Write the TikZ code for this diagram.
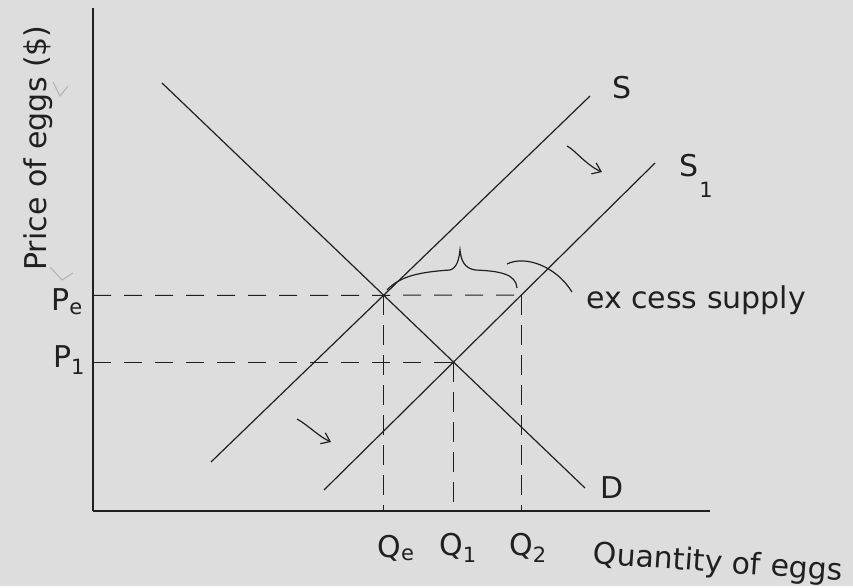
\documentclass[tikz,border=0pt]{standalone}
\usepackage{fontspec}
\setmainfont{DejaVu Sans}
\usetikzlibrary{arrows.meta,calc,positioning}
\definecolor{paper}{RGB}{221,221,221}
\definecolor{ink}{RGB}{32,32,32}
\definecolor{pencil}{RGB}{178,178,178}
\tikzset{
  curve/.style={ink,line width=1.2pt},
  guide/.style={ink,line width=1pt,dash pattern=on 18pt off 13pt},
  hand/.style={ink,inner sep=0pt,font=\fontsize{30}{34}\selectfont},
  small/.style={hand,font=\fontsize{21}{24}\selectfont},
}
\begin{document}
\begin{tikzpicture}[x=1pt,y=-1pt,>=Stealth]
\fill[paper] (0,0) rectangle (853,586);
% axes
\coordinate (O) at (93,511);
\coordinate (ytop) at (93,8);
\coordinate (xend) at (710,511);
\draw[ink,line width=1.6pt] (O)--(ytop);
\draw[ink,line width=2.2pt] (O)--(xend);
\node[hand,rotate=90] (ylab) at (38,148) {Price of eggs (\$)};
\node[hand,rotate=-4] (xlab) at (718,564) {Quantity of eggs};
% demand, supply and shifted supply
\coordinate (D0) at (162,83); \coordinate (D1) at (585,488);
\coordinate (S0) at (211,462); \coordinate (S1) at (590,96);
\coordinate (T0) at (324,490); \coordinate (T1) at (655,163);
\draw[curve] (D0)--(D1);
\draw[curve] (S0)--(S1);
\draw[curve] (T0)--(T1);
\node[hand] (slab) at (622,88) {S};
\node[hand] (s1lab) at (689,166) {S};
\node[small] (s1sub) at (706,190) {1};
\node[hand] (dlab) at (612,488) {D};
% equilibria and the price / quantity guides
\coordinate (E) at (intersection of D0--D1 and S0--S1);
\coordinate (F) at (intersection of D0--D1 and T0--T1);
\coordinate (Pe) at (O |- E);
\coordinate (P1) at (O |- F);
\coordinate (G) at (intersection of T0--T1 and Pe--E);
\coordinate (Qe) at (E |- O);
\coordinate (Q1) at (F |- O);
\coordinate (Q2) at (G |- O);
\draw[guide] (Pe)--(G);
\draw[guide] (P1)--(F);
\draw[guide,dash pattern=on 20pt off 10pt] (E)--(Qe);
\draw[guide,dash pattern=on 20pt off 10pt] (F)--(Q1);
\draw[guide,dash pattern=on 20pt off 10pt] (G)--(Q2);
\node[hand] (pelab) at (67,302) {P\textsubscript{e}};
\node[hand] (p1lab) at (69,360) {P\textsubscript{1}};
\node[hand] (qelab) at (396,548) {Q\textsubscript{e}};
\node[hand] (q1lab) at (458,548) {Q\textsubscript{1}};
\node[hand] (q2lab) at (528,548) {Q\textsubscript{2}};
% brace over the excess supply
\coordinate (brL) at (387,290);
\coordinate (brT) at (460,250);
\coordinate (brR) at (517,288);
\draw[curve] (brL) .. controls (400,276) and (420,272) .. (450,270)
  .. controls (457,268) and (459,259) .. (brT)
  .. controls (461,260) and (464,268) .. (475,270)
  .. controls (500,271) and (516,274) .. (brR);
\coordinate (arcA) at (507,264);
\coordinate (arcB) at (572,292);
\draw[curve] (arcA) .. controls (525,255) and (556,266) .. (arcB);
\node[hand,anchor=west] (exlab) at (586,300) {ex cess supply};
% shift arrows
\coordinate (a0) at (567,146); \coordinate (a1) at (602,172);
\draw[curve,-{Straight Barb[length=8pt,width=12pt]}] (a0) .. controls (575,150) and (586,165) .. (a1);
\coordinate (b0) at (297,419); \coordinate (b1) at (331,442);
\draw[curve,-{Straight Barb[length=8pt,width=12pt]}] (b0) .. controls (308,425) and (318,436) .. (b1);
% pencil ticks
\draw[pencil,line width=1pt] (53,82)--(60,96)--(68,86);
\draw[pencil,line width=1pt] (50,267)--(62,280)--(73,273);
\end{tikzpicture}
\end{document}
